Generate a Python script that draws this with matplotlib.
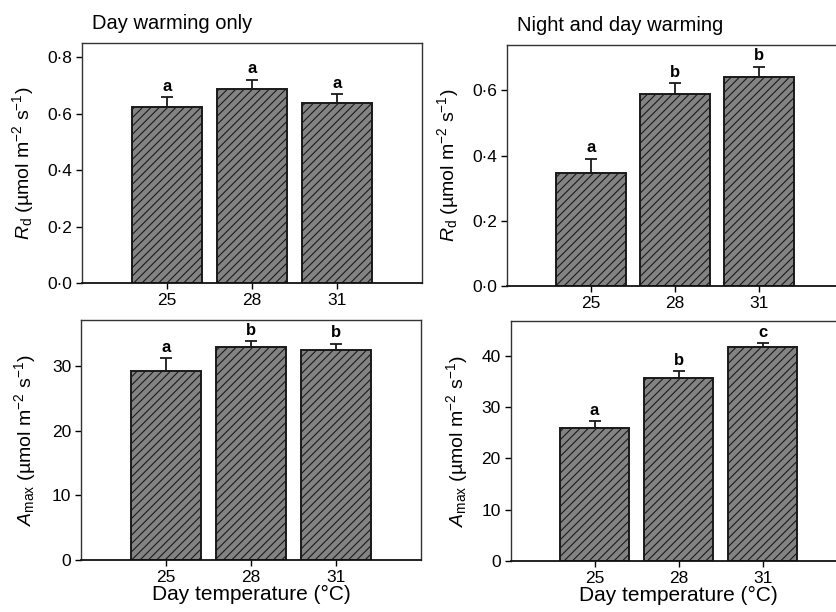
import matplotlib
matplotlib.use('Agg')
import matplotlib.pyplot as plt
from matplotlib.ticker import FuncFormatter

plt.rcParams['font.family'] = ['Liberation Sans', 'DejaVu Sans']
plt.rcParams['mathtext.fontset'] = 'custom'
plt.rcParams['mathtext.rm'] = 'Liberation Sans'
plt.rcParams['mathtext.it'] = 'Liberation Sans:italic'
plt.rcParams['mathtext.bf'] = 'Liberation Sans:bold'
plt.rcParams['hatch.linewidth'] = 0.8
plt.rcParams['hatch.color'] = '#1a1a1a'

temps = ['25', '28', '31']

# day warming only
rd_day = [0.623, 0.687, 0.637]
rd_day_err = [0.035, 0.032, 0.032]
rd_day_letters = ['a', 'a', 'a']
amax_day = [29.2, 33.0, 32.5]
amax_day_err = [2.0, 0.8, 0.9]
amax_day_letters = ['a', 'b', 'b']

# night and day warming
rd_night = [0.348, 0.590, 0.641]
rd_night_err = [0.042, 0.032, 0.032]
rd_night_letters = ['a', 'b', 'b']
amax_night = [25.9, 35.7, 41.7]
amax_night_err = [1.3, 1.2, 0.7]
amax_night_letters = ['a', 'b', 'c']

RD_LABEL = r'$\mathit{R}_{\mathrm{d}}$ (µmol m$^{\mathrm{-2}}$ s$^{\mathrm{-1}}$)'
AMAX_LABEL = r'$\mathit{A}_{\mathrm{max}}$ (µmol m$^{\mathrm{-2}}$ s$^{\mathrm{-1}}$)'


def dot_fmt(v, pos):
    return '{:.1f}'.format(v).replace('.', '\u00b7')


def panel(ax, vals, errs, letters, ymax, yticks, ylabel, dotted, pad):
    x = range(len(temps))
    ax.bar(x, vals, width=0.83, color='#838383', edgecolor='#1a1a1a',
           linewidth=1.4, hatch='////', zorder=2)
    ax.errorbar(x, vals, yerr=[[0] * len(errs), errs], fmt='none',
                ecolor='#1a1a1a', elinewidth=1.3, capsize=4, capthick=1.3, zorder=3)
    for i, (v, e, l) in enumerate(zip(vals, errs, letters)):
        ax.text(i, v + e + ymax * 0.015, l, ha='center', va='bottom',
                fontsize=12, fontweight='bold')
    ax.set_xlim(-1, 3)
    ax.set_ylim(0, ymax)
    ax.set_xticks(list(x))
    ax.set_xticklabels(temps)
    ax.set_yticks(yticks)
    if dotted:
        ax.yaxis.set_major_formatter(FuncFormatter(dot_fmt))
    ax.tick_params(labelsize=12.5, length=4, width=1, direction='out', pad=3)
    ax.set_ylabel(ylabel, fontsize=14, labelpad=pad)
    for s in ax.spines.values():
        s.set_color('#333333')
        s.set_linewidth(1.0)
    ax.spines['bottom'].set_color('#111111')
    ax.spines['bottom'].set_linewidth(1.3)


fig = plt.figure(figsize=(8.37, 6.12), dpi=100)

ax1 = fig.add_axes([0.098, 0.5376, 0.406, 0.392])
panel(ax1, rd_day, rd_day_err, rd_day_letters, 0.85,
      [0, 0.2, 0.4, 0.6, 0.8], RD_LABEL, True, 8)
ax1.text(0.11, 0.962, 'Day warming only', transform=fig.transFigure,
         fontsize=14.5, ha='left', va='center')

ax2 = fig.add_axes([0.6057, 0.5327, 0.4014, 0.394])
panel(ax2, rd_night, rd_night_err, rd_night_letters, 0.74,
      [0, 0.2, 0.4, 0.6], RD_LABEL, True, 8)
ax2.spines['right'].set_visible(False)
ax2.text(0.618, 0.959, 'Night and day warming', transform=fig.transFigure,
         fontsize=14.5, ha='left', va='center')

ax3 = fig.add_axes([0.097, 0.085, 0.406, 0.392])
panel(ax3, amax_day, amax_day_err, amax_day_letters, 37.1,
      [0, 10, 20, 30], AMAX_LABEL, False, 10)
ax3.set_xlabel('Day temperature (°C)', fontsize=15, labelpad=0)

ax4 = fig.add_axes([0.610, 0.0828, 0.4014, 0.3926])
panel(ax4, amax_night, amax_night_err, amax_night_letters, 46.7,
      [0, 10, 20, 30, 40], AMAX_LABEL, False, 8)
ax4.spines['right'].set_visible(False)
ax4.set_xlabel('Day temperature (°C)', fontsize=15, labelpad=0)

fig.savefig('out.png', dpi=100)
